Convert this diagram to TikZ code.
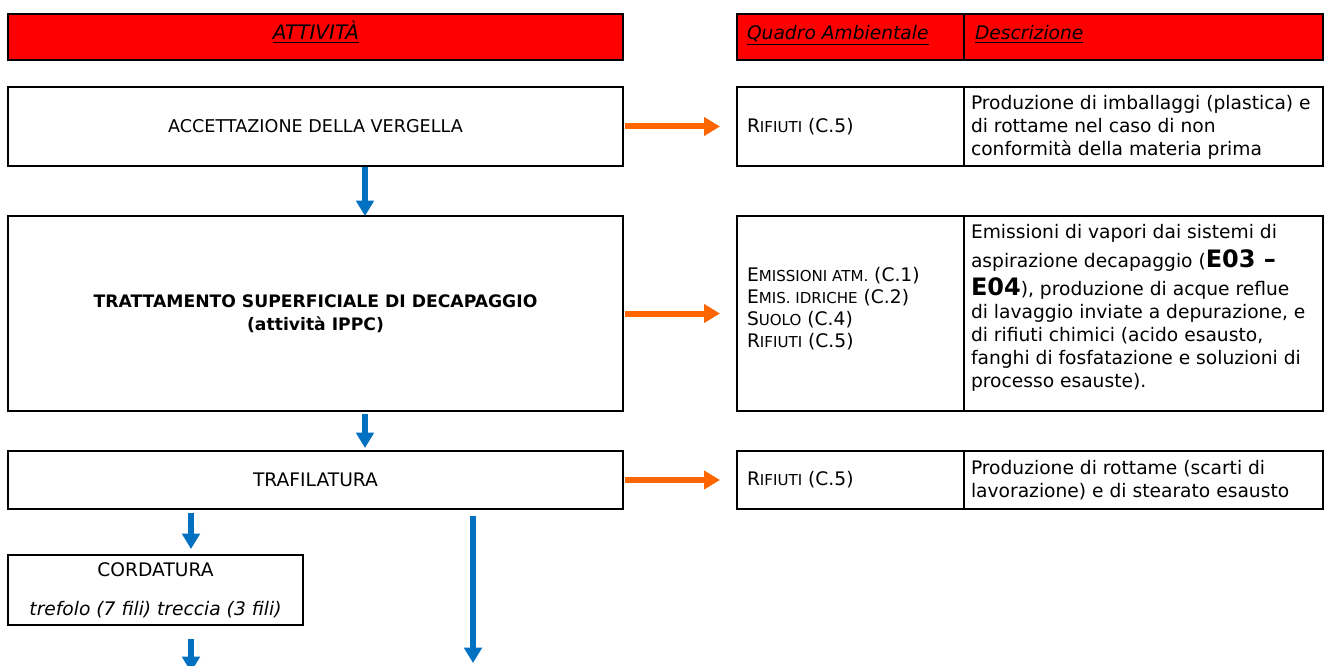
\documentclass[tikz,border=0pt]{standalone}
\usepackage{fontspec}
\setmainfont{DejaVu Sans}
\usetikzlibrary{arrows.meta,calc}
\definecolor{hdrred}{HTML}{FF0000}
\definecolor{arrorange}{HTML}{FF6600}
\definecolor{arrblue}{HTML}{0070C0}
\newcommand\pxu{0.75pt}
\newcommand\fsc[2]{#1{\fontsize{11.3pt}{12pt}\selectfont #2}}
\newcommand\bigb[1]{{\fontsize{18pt}{18pt}\selectfont\bfseries #1}}
\begin{document}
\begin{tikzpicture}[x=0.75pt,y=-0.75pt,
  font=\fontsize{14pt}{17.25pt}\selectfont,
  box/.style={draw,line width=1.5pt,inner sep=0pt,outer sep=0pt},
  hdrbox/.style={box,fill=hdrred},
  boxtext/.style={font=\fontsize{14pt}{17.25pt}\selectfont},
  txt/.style={inner sep=0pt,outer sep=0pt},
  desc/.style={txt,anchor=west,align=left},
  oarrow/.style={draw=arrorange,line width=4.5pt,-{Triangle[width=13.5pt,length=12pt]}},
  barrow/.style={draw=arrblue,line width=4.5pt,-{Triangle[width=13pt,length=11.5pt]}}]
\useasboundingbox (0,0) rectangle (1326,666);

% headers
\node[hdrbox,minimum width=615*\pxu,minimum height=46*\pxu] (hatt) at (315.5,37) {};
\node[hdrbox,minimum width=227*\pxu,minimum height=46*\pxu] (hqa) at (850.5,37) {};
\node[hdrbox,minimum width=359*\pxu,minimum height=46*\pxu] (hdesc) at (1143.5,37) {};
\node[txt,anchor=base,font=\fontsize{15pt}{17pt}\selectfont] (thatt) at (316,40) {\textit{\underline{ATTIVITÀ}}};
\node[txt,anchor=base west] (thqa) at (747,40) {\textit{\underline{Quadro Ambientale}}};
\node[txt,anchor=base west] (thdesc) at (975,40) {\textit{\underline{Descrizione}}};

% activity boxes
\node[box,minimum width=615*\pxu,minimum height=79*\pxu,font=\fontsize{13.2pt}{17pt}\selectfont] (acc) at (315.5,126.5) {ACCETTAZIONE DELLA VERGELLA};
\node[box,minimum width=615*\pxu,minimum height=195*\pxu,align=center,
      font=\fontsize{12.9pt}{17.25pt}\selectfont\bfseries] (trat) at (315.5,313.5)
  {TRATTAMENTO SUPERFICIALE DI DECAPAGGIO\\(attività IPPC)};
\node[box,boxtext,minimum width=615*\pxu,minimum height=58*\pxu] (traf) at (315.5,480) {TRAFILATURA};
\node[box,boxtext,minimum width=295*\pxu,minimum height=70*\pxu,align=center] (cord) at (155.5,590)
  {CORDATURA\\[12pt]{\itshape trefolo (7 fili) treccia (3 fili)}};

% table cells
\node[box,minimum width=227*\pxu,minimum height=79*\pxu] (q1) at (850.5,126.5) {};
\node[box,minimum width=359*\pxu,minimum height=79*\pxu] (d1) at (1143.5,126.5) {};
\node[box,minimum width=227*\pxu,minimum height=195*\pxu] (q2) at (850.5,313.5) {};
\node[box,minimum width=359*\pxu,minimum height=195*\pxu] (d2) at (1143.5,313.5) {};
\node[box,minimum width=227*\pxu,minimum height=58*\pxu] (q3) at (850.5,480) {};
\node[box,minimum width=359*\pxu,minimum height=58*\pxu] (d3) at (1143.5,480) {};

% cell texts
\node[desc] (tq1) at (747,127) {\fsc{R}{IFIUTI} (C.5)};
\node[desc] (td1) at (971,127) {Produzione di imballaggi (plastica) e\\di rottame nel caso di non\\conformità della materia prima};
\node[desc,font=\fontsize{14pt}{16.5pt}\selectfont] (tq2) at (747,309)
  {\fsc{E}{MISSIONI ATM.} (C.1)\\\fsc{E}{MIS. IDRICHE} (C.2)\\\fsc{S}{UOLO} (C.4)\\\fsc{R}{IFIUTI} (C.5)};
\node[desc] (td2) at (971,308)
  {Emissioni di vapori dai sistemi di\\[4pt]
   aspirazione decapaggio (\bigb{E03 –}\\[4pt]
   \bigb{E04}), produzione di acque reflue\\
   di lavaggio inviate a depurazione, e\\
   di rifiuti chimici (acido esausto,\\
   fanghi di fosfatazione e soluzioni di\\
   processo esauste).};
\node[desc] (tq3) at (747,480) {\fsc{R}{IFIUTI} (C.5)};
\node[desc] (td3) at (971,480) {Produzione di rottame (scarti di\\lavorazione) e di stearato esausto};

% orange arrows
\draw[oarrow,shorten <=1.5*\pxu,shorten >=17*\pxu] (acc) -- (q1);
\draw[oarrow,shorten <=1.5*\pxu,shorten >=17*\pxu] (trat) -- (q2);
\draw[oarrow,shorten <=1.5*\pxu,shorten >=17*\pxu] (traf) -- (q3);

% blue arrows
\coordinate (a1) at (365,0);
\draw[barrow,shorten <=1*\pxu] (acc.south -| a1) -- (trat.north -| a1);
\draw[barrow,shorten <=3*\pxu,shorten >=3*\pxu] (trat.south -| a1) -- (traf.north -| a1);
\coordinate (b1) at (191,549);
\coordinate (b2) at (473,663);
\coordinate (b3) at (191,672);
\draw[barrow,shorten <=4*\pxu] (traf.south -| b1) -- (b1);
\draw[barrow,shorten <=7*\pxu] (traf.south -| b2) -- (b2);
\draw[barrow,shorten <=14*\pxu] (cord.south -| b3) -- (b3);
\end{tikzpicture}
\end{document}
